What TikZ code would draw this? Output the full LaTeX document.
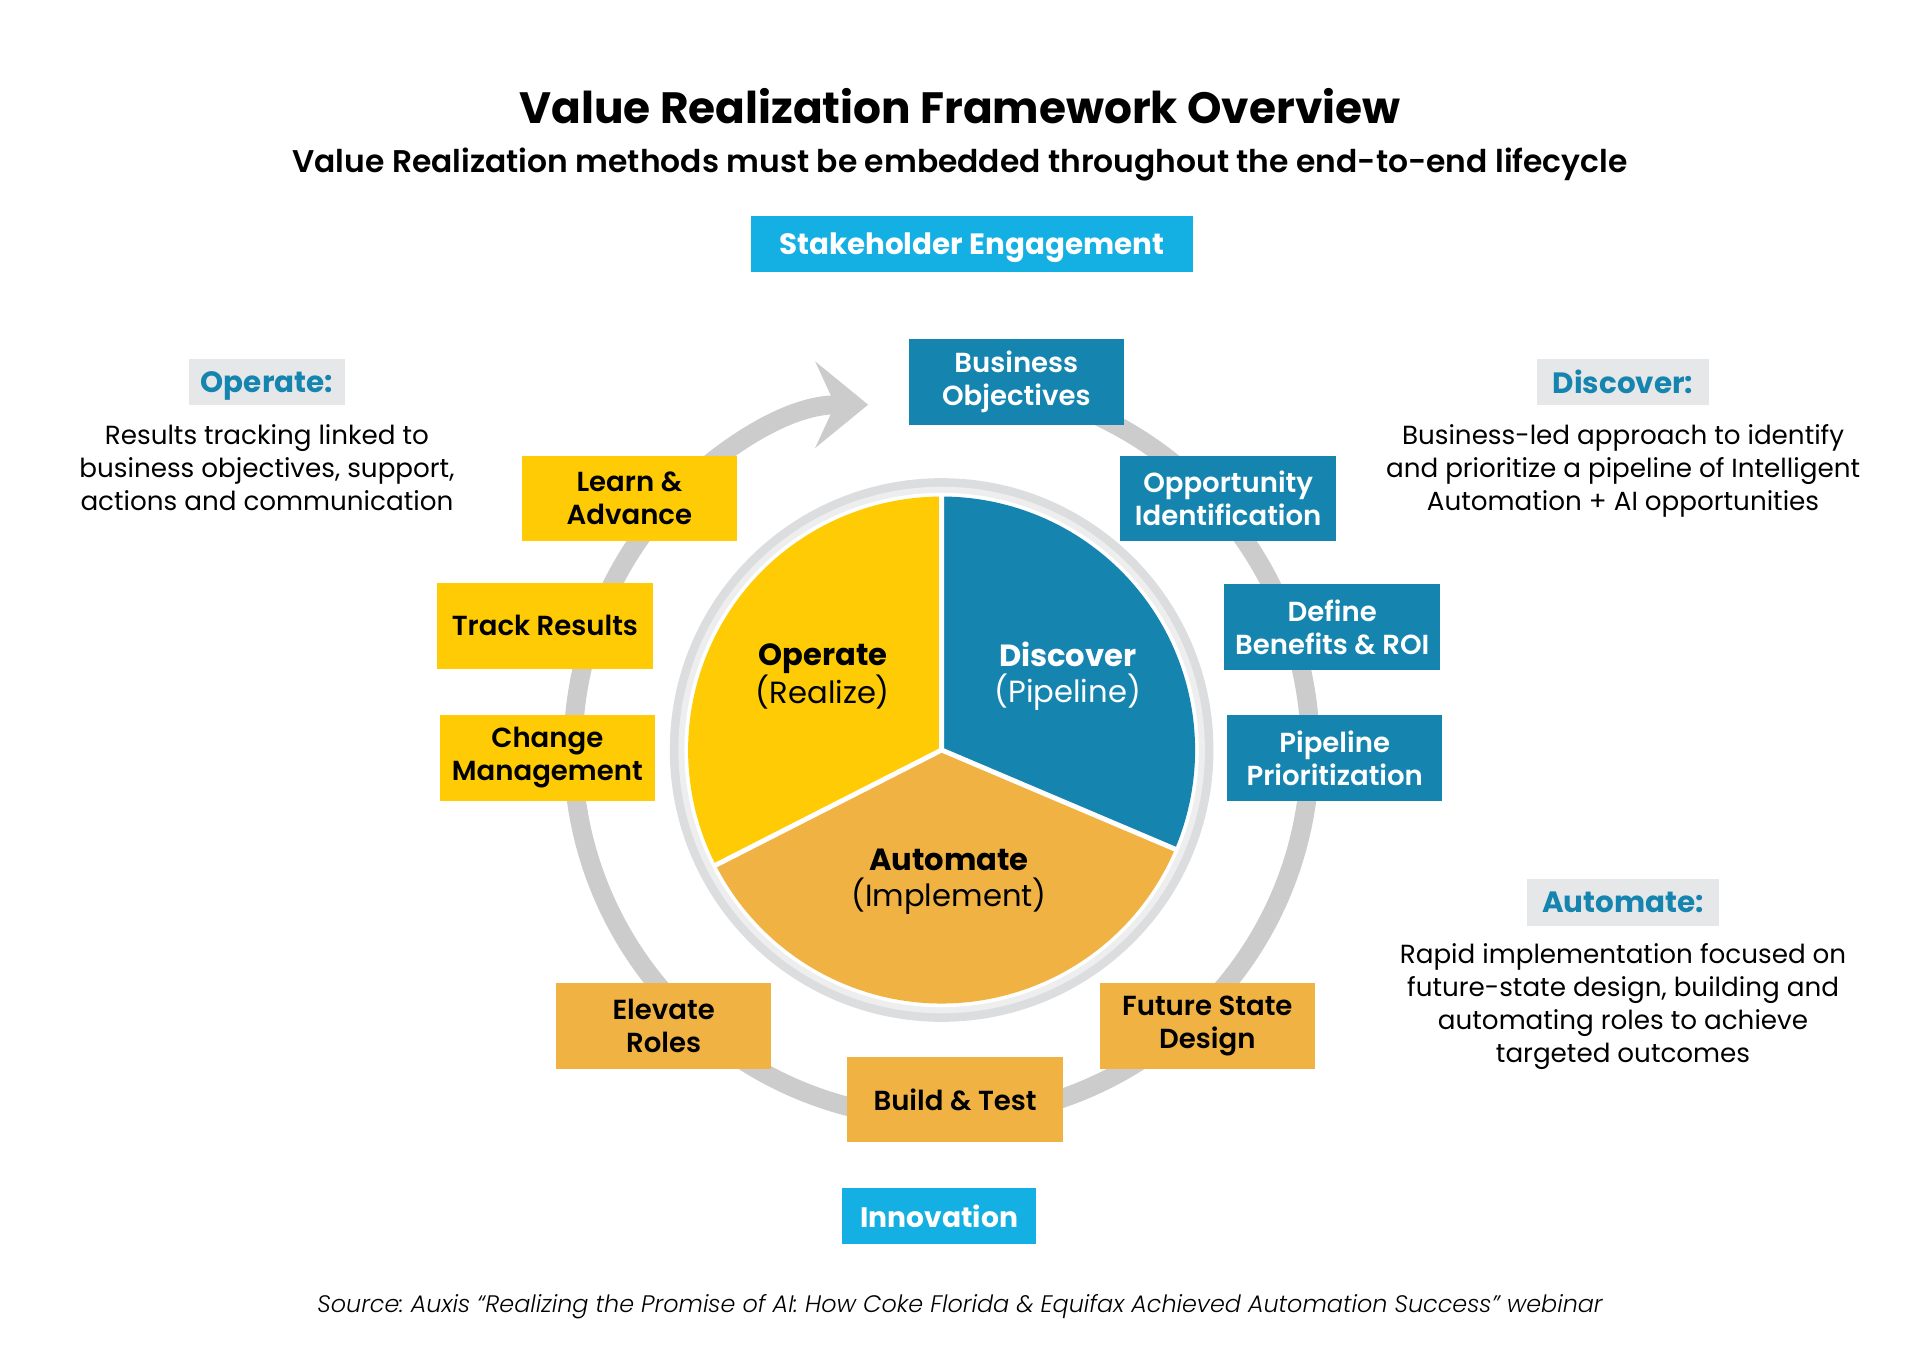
\documentclass[tikz,border=0pt]{standalone}
\usepackage{fontspec}
\setmainfont{Poppins}
\newfontfamily\popsemi{Poppins SemiBold}
\newfontfamily\poplight{Poppins Light}
\usepackage{xcolor}
\usetikzlibrary{positioning}
\usetikzlibrary{arrows.meta}
\frenchspacing
\definecolor{vrblue}{HTML}{1585B0}
\definecolor{vrcyan}{HTML}{14AFE3}
\definecolor{vryellow}{HTML}{FECB05}
\definecolor{vrorange}{HTML}{F0B343}
\definecolor{vrring}{HTML}{CCCCCC}
\definecolor{vrtag}{HTML}{E6E7E8}
\definecolor{vrhalo}{HTML}{DCDDDE}
\definecolor{vrhalolight}{HTML}{EEEEEF}
\tikzstyle{stagebox} = [rectangle, minimum width=176pt, minimum height=70pt,
inner sep=0pt, align=center, font=\popsemi\fontsize{22.5}{27}\selectfont]
\tikzstyle{discbox} = [stagebox, fill=vrblue, text=white]
\tikzstyle{operbox} = [stagebox, fill=vryellow, text=black]
\tikzstyle{autobox} = [stagebox, fill=vrorange, text=black]
\tikzstyle{tagbox} = [fill=vrcyan, text=white, minimum height=46pt, inner sep=0pt,
text depth=0pt, font=\bfseries\fontsize{24}{28}\selectfont]
\tikzstyle{phasetitle} = [fill=vrtag, text=vrblue, minimum height=38pt, inner sep=0pt,
text depth=0pt, font=\bfseries\fontsize{24}{28}\selectfont]
\tikzstyle{phasetext} = [align=center, inner sep=0pt, font=\fontsize{21.4}{27}\selectfont]
\tikzstyle{piename} = [align=center, inner sep=0pt, font=\fontsize{25}{29.5}\selectfont]
\tikzstyle{cyclering} = [draw=vrring, line width=15.5pt]

\begin{document}
\begin{tikzpicture}[x=1pt, y=1pt]
        \useasboundingbox (-769,-499.5) rectangle (799,612.5);
        % headings
        \node[font=\bfseries\fontsize{35.8}{42}\selectfont] (title) at (15,525.5)
            {Value Realization Framework Overview};
        \node[font=\popsemi\fontsize{25.6}{30}\selectfont] (subtitle) at (15,478.5)
            {Value Realization methods must be embedded throughout the end-to-end lifecycle};
        \node[tagbox, minimum width=361pt] (stake) at (24.5,413.5) {Stakeholder Engagement};
        \node[tagbox, minimum width=158pt, font=\bfseries\fontsize{23}{28}\selectfont] (innov) at (-2,-380.5) {Innovation};

        % outer cycle with arrow
        \coordinate (arrowtip) at (-60,282);
        \draw[cyclering, -{Stealth[length=43pt, width=70pt, inset=16pt]}]
            (80:301) arc[start angle=80, end angle=-235, radius=301]
            to[out=35, in=180] (arrowtip);

        % pie in the middle
        \fill[vrhalo] (0,0) circle[radius=222];
        \fill[vrhalolight] (0,0) circle[radius=215];
        \fill[white] (0,0) circle[radius=210];
        \fill[vrblue] (0,0) -- (90:207) arc[start angle=90, end angle=-23, radius=207] -- cycle;
        \fill[vrorange] (0,0) -- (-23:207) arc[start angle=-23, end angle=-153, radius=207] -- cycle;
        \fill[vryellow] (0,0) -- (207:207) arc[start angle=207, end angle=90, radius=207] -- cycle;
        \draw[white, line width=4pt] (0,0) -- (90:209) (0,0) -- (-23:209) (0,0) -- (207:209);
        \node[piename] (opname) at (-97,60) {{\bfseries Operate}\\(Realize)};
        \node[piename, text=white] (discname) at (103,60) {{\bfseries Discover}\\(Pipeline)};
        \node[piename] (autoname) at (6,-107.5) {{\bfseries Automate}\\(Implement)};

        % stages round the cycle
        \node[discbox] (busobj) at (61,300.5) {Business\\Objectives};
        \node[discbox] (oppid) at (234,205.5) {Opportunity\\Identification};
        \node[discbox] (benefits) at (319,100.5) {Define\\Benefits \& ROI};
        \node[discbox] (pipeprio) at (321,-6.5) {Pipeline\\Prioritization};
        \node[autobox] (future) at (217,-225.5) {Future State\\Design};
        \node[autobox] (buildtest) at (11,-285.5) {Build \& Test};
        \node[autobox] (elevate) at (-227,-225.5) {Elevate\\Roles};
        \node[operbox] (change) at (-322,-6.5) {Change\\Management};
        \node[operbox] (track) at (-324,101.5) {Track Results};
        \node[operbox] (learn) at (-255,205.5) {Learn \&\\Advance};

        % side notes
        \node[phasetitle, minimum width=128pt] (optitle) at (-551,300.5) {Operate:};
        \node[phasetext, below=15pt of optitle] (optext)
            {Results tracking linked to\\business objectives, support,\\actions and communication};
        \node[phasetitle, minimum width=141pt] (disctitle) at (556.5,300.5) {Discover:};
        \node[phasetext, below=15pt of disctitle] (disctext)
            {Business-led approach to identify\\and prioritize a pipeline of Intelligent\\Automation + AI opportunities};
        \node[phasetitle, minimum width=157pt] (autotitle) at (556.5,-124.5) {Automate:};
        \node[phasetext, below=14pt of autotitle] (autotext)
            {Rapid implementation focused on\\future-state design, building and\\automating roles to achieve\\targeted outcomes};

        \node[font=\poplight\itshape\fontsize{19.5}{23}\selectfont] (source) at (15,-454.5)
            {Source: Auxis “Realizing the Promise of AI: How Coke Florida \& Equifax Achieved Automation Success” webinar};
    \end{tikzpicture}
\end{document}
